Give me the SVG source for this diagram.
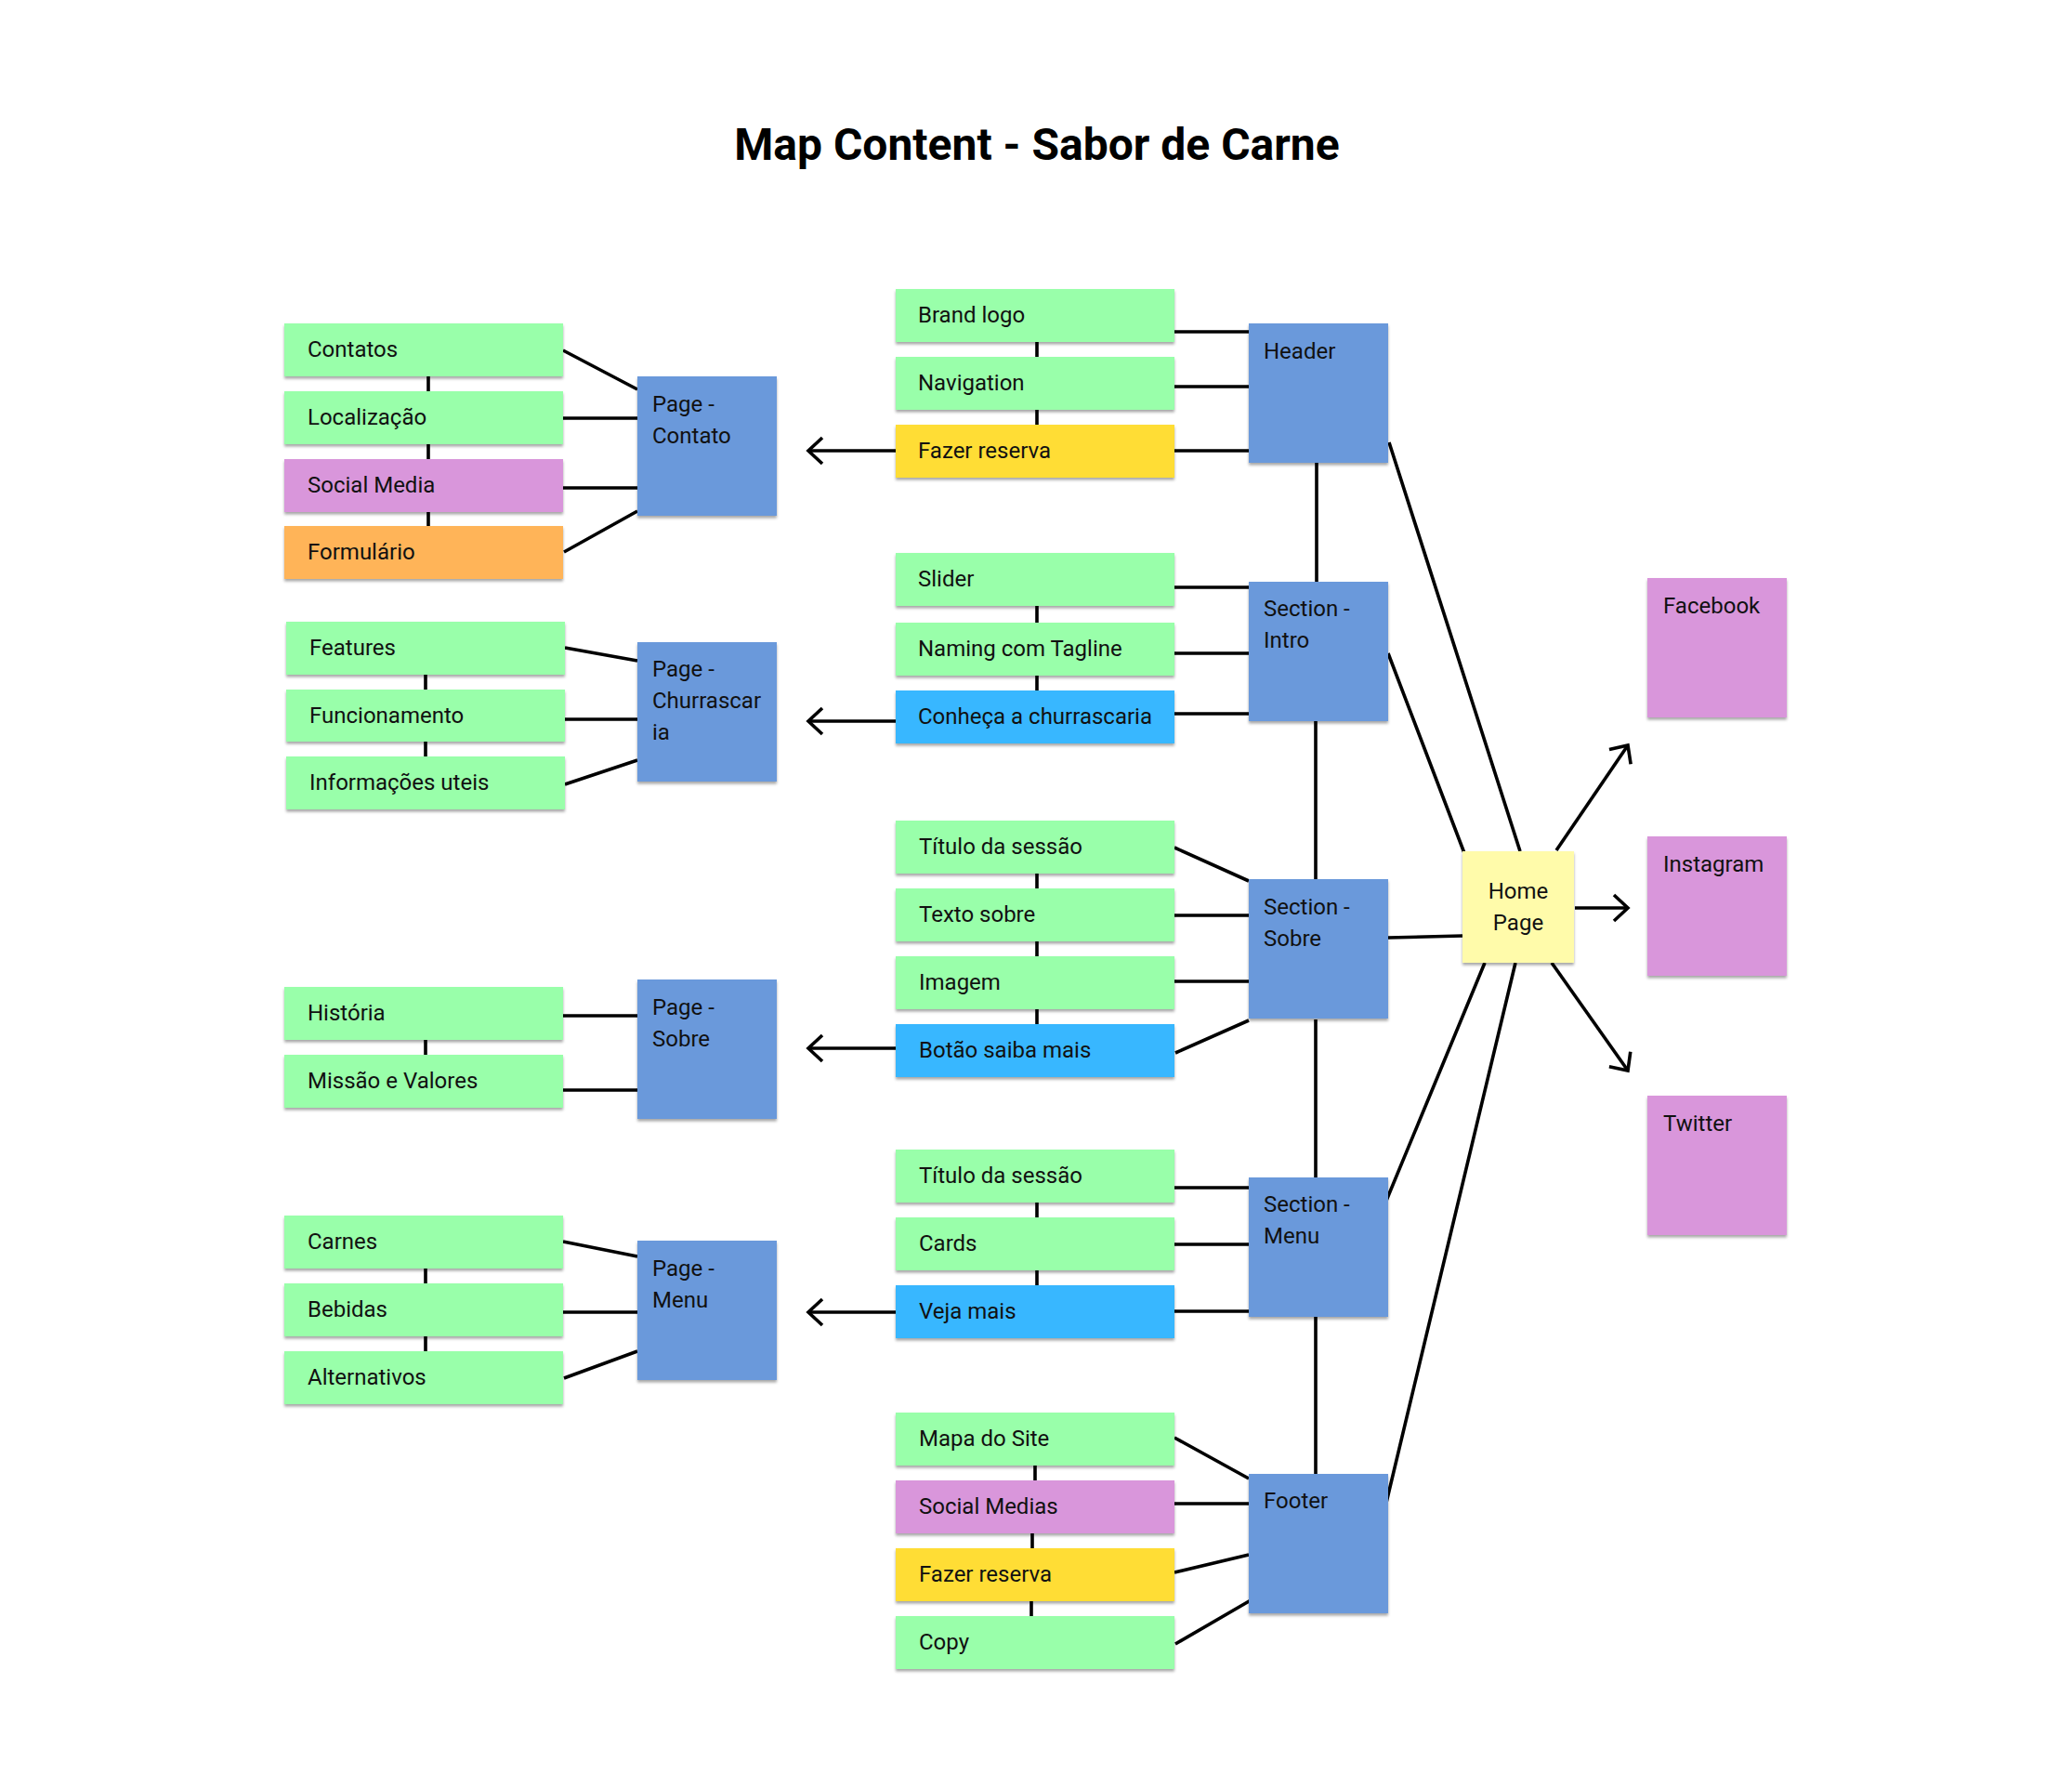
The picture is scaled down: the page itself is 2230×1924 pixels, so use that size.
<svg xmlns="http://www.w3.org/2000/svg" width="2230" height="1924" viewBox="0 0 2230 1924">
<style>
.t{font-family:Roboto,"Liberation Sans",Arial,sans-serif;font-size:24px;fill:#111}
.title{font-family:Roboto,"Liberation Sans",Arial,sans-serif;font-size:48px;font-weight:bold;fill:#000}
.g{fill:#99FFAA}
.b{fill:#6B99DB}
.y{fill:#FFDD36}
.c{fill:#38B7FF}
.p{fill:#D996DB}
.o{fill:#FFB458}
.h{fill:#FFFBAA}
.box{filter:url(#sh)}
.ln{stroke:#000;stroke-width:3.6;fill:none;stroke-linecap:butt}
.ar{marker-end:url(#ah)}
</style>
<defs>
<filter id="sh" x="-10%" y="-10%" width="120%" height="130%">
<feDropShadow dx="0" dy="2.5" stdDeviation="1.8" flood-color="#000" flood-opacity="0.35"/>
</filter>
<marker id="ah" markerUnits="userSpaceOnUse" markerWidth="40" markerHeight="40" viewBox="-20 -20 40 40" refX="0" refY="0" orient="auto">
<path d="M-15,-14 L0,0 L-15,14" fill="none" stroke="#000" stroke-width="3.6"/>
</marker>
</defs>
<rect width="2230" height="1924" fill="#fff"/>
<text class="title" x="1116" y="172" text-anchor="middle">Map Content - Sabor de Carne</text>

<g id="connectors">
<path class="ln" d="M461,405V421 M461,478V494 M461,551V566"/>
<path class="ln" d="M606,377L686,419 M606,450H686 M606,525H686 M607,594L686,550"/>
<path class="ln" d="M458,726V742 M458,798V814"/>
<path class="ln" d="M608,697L686,711 M608,774H686 M608,844L686,818"/>
<path class="ln" d="M458,1119V1135"/>
<path class="ln" d="M606,1093H686 M606,1173H686"/>
<path class="ln" d="M458,1365V1381 M458,1438V1454"/>
<path class="ln" d="M606,1336L686,1352 M606,1412H686 M607,1483L686,1454"/>
<path class="ln ar" d="M964,485H870"/>
<path class="ln ar" d="M964,776H870"/>
<path class="ln ar" d="M964,1128H870"/>
<path class="ln ar" d="M964,1412H870"/>
<path class="ln" d="M1116,368V384 M1116,441V457"/>
<path class="ln" d="M1264,357H1344 M1264,416H1344 M1264,485H1344"/>
<path class="ln" d="M1116,652V670 M1116,727V743"/>
<path class="ln" d="M1264,632H1344 M1264,703H1344 M1264,768H1344"/>
<path class="ln" d="M1116,940V956 M1116,1013V1029 M1116,1086V1102"/>
<path class="ln" d="M1264,912L1344,948 M1264,985H1344 M1264,1056H1344 M1265,1133L1344,1098"/>
<path class="ln" d="M1116,1294V1310 M1116,1367V1383"/>
<path class="ln" d="M1264,1278H1344 M1264,1339H1344 M1264,1411H1344"/>
<path class="ln" d="M1114,1577V1593 M1111,1650V1666 M1110,1723V1739"/>
<path class="ln" d="M1264,1547L1344,1591 M1264,1618H1344 M1264,1692L1344,1673 M1265,1769L1346,1722"/>
<path class="ln" d="M1417,498V626 M1416,776V946 M1416,1097V1267 M1416,1417V1586"/>
<path class="ln" d="M1495,476L1636,916 M1494,703L1576,918 M1494,1009L1574,1007 M1492,1292L1598,1036 M1492,1617L1631,1036"/>
<path class="ln ar" d="M1675,915L1752,802"/>
<path class="ln ar" d="M1695,977H1752"/>
<path class="ln ar" d="M1670,1036L1752,1152"/>
</g>

<g id="page-contato"><rect class="box b" x="686" y="405" width="150" height="150"/><text class="t" x="702" y="443">Page -</text><text class="t" x="702" y="477">Contato</text></g>
<g id="contatos"><rect class="box g" x="306" y="348" width="300" height="57"/><text class="t" x="331" y="384">Contatos</text></g>
<g id="localizacao"><rect class="box g" x="306" y="421" width="300" height="57"/><text class="t" x="331" y="457">Localização</text></g>
<g id="social-media"><rect class="box p" x="306" y="494" width="300" height="57"/><text class="t" x="331" y="530">Social Media</text></g>
<g id="formulario"><rect class="box o" x="306" y="566" width="300" height="57"/><text class="t" x="331" y="602">Formulário</text></g>

<g id="page-churrascaria"><rect class="box b" x="686" y="691" width="150" height="150"/><text class="t" x="702" y="728">Page -</text><text class="t" x="702" y="762">Churrascar</text><text class="t" x="702" y="796">ia</text></g>
<g id="features"><rect class="box g" x="308" y="669" width="300" height="57"/><text class="t" x="333" y="705">Features</text></g>
<g id="funcionamento"><rect class="box g" x="308" y="742" width="300" height="56"/><text class="t" x="333" y="778">Funcionamento</text></g>
<g id="informacoes"><rect class="box g" x="308" y="814" width="300" height="57"/><text class="t" x="333" y="850">Informações uteis</text></g>

<g id="page-sobre"><rect class="box b" x="686" y="1054" width="150" height="150"/><text class="t" x="702" y="1092">Page -</text><text class="t" x="702" y="1126">Sobre</text></g>
<g id="historia"><rect class="box g" x="306" y="1062" width="300" height="57"/><text class="t" x="331" y="1098">História</text></g>
<g id="missao"><rect class="box g" x="306" y="1135" width="300" height="57"/><text class="t" x="331" y="1171">Missão e Valores</text></g>

<g id="page-menu"><rect class="box b" x="686" y="1335" width="150" height="150"/><text class="t" x="702" y="1373">Page -</text><text class="t" x="702" y="1407">Menu</text></g>
<g id="carnes"><rect class="box g" x="306" y="1308" width="300" height="57"/><text class="t" x="331" y="1344">Carnes</text></g>
<g id="bebidas"><rect class="box g" x="306" y="1381" width="300" height="57"/><text class="t" x="331" y="1417">Bebidas</text></g>
<g id="alternativos"><rect class="box g" x="306" y="1454" width="300" height="57"/><text class="t" x="331" y="1490">Alternativos</text></g>

<g id="header"><rect class="box b" x="1344" y="348" width="150" height="150"/><text class="t" x="1360" y="386">Header</text></g>
<g id="brand-logo"><rect class="box g" x="964" y="311" width="300" height="57"/><text class="t" x="988" y="347">Brand logo</text></g>
<g id="navigation"><rect class="box g" x="964" y="384" width="300" height="57"/><text class="t" x="988" y="420">Navigation</text></g>
<g id="fazer-reserva-1"><rect class="box y" x="964" y="457" width="300" height="57"/><text class="t" x="988" y="493">Fazer reserva</text></g>

<g id="section-intro"><rect class="box b" x="1344" y="626" width="150" height="150"/><text class="t" x="1360" y="663">Section -</text><text class="t" x="1360" y="697">Intro</text></g>
<g id="slider"><rect class="box g" x="964" y="595" width="300" height="57"/><text class="t" x="988" y="631">Slider</text></g>
<g id="naming"><rect class="box g" x="964" y="670" width="300" height="57"/><text class="t" x="988" y="706">Naming com Tagline</text></g>
<g id="conheca"><rect class="box c" x="964" y="743" width="300" height="57"/><text class="t" x="988" y="779">Conheça a churrascaria</text></g>

<g id="section-sobre"><rect class="box b" x="1344" y="946" width="150" height="150"/><text class="t" x="1360" y="984">Section -</text><text class="t" x="1360" y="1018">Sobre</text></g>
<g id="titulo-1"><rect class="box g" x="964" y="883" width="300" height="57"/><text class="t" x="989" y="919">Título da sessão</text></g>
<g id="texto-sobre"><rect class="box g" x="964" y="956" width="300" height="57"/><text class="t" x="989" y="992">Texto sobre</text></g>
<g id="imagem"><rect class="box g" x="964" y="1029" width="300" height="57"/><text class="t" x="989" y="1065">Imagem</text></g>
<g id="botao"><rect class="box c" x="964" y="1102" width="300" height="57"/><text class="t" x="989" y="1138">Botão saiba mais</text></g>

<g id="section-menu"><rect class="box b" x="1344" y="1267" width="150" height="150"/><text class="t" x="1360" y="1304">Section -</text><text class="t" x="1360" y="1338">Menu</text></g>
<g id="titulo-2"><rect class="box g" x="964" y="1237" width="300" height="57"/><text class="t" x="989" y="1273">Título da sessão</text></g>
<g id="cards"><rect class="box g" x="964" y="1310" width="300" height="57"/><text class="t" x="989" y="1346">Cards</text></g>
<g id="veja-mais"><rect class="box c" x="964" y="1383" width="300" height="57"/><text class="t" x="989" y="1419">Veja mais</text></g>

<g id="footer"><rect class="box b" x="1344" y="1586" width="150" height="150"/><text class="t" x="1360" y="1623">Footer</text></g>
<g id="mapa"><rect class="box g" x="964" y="1520" width="300" height="57"/><text class="t" x="989" y="1556">Mapa do Site</text></g>
<g id="social-medias"><rect class="box p" x="964" y="1593" width="300" height="57"/><text class="t" x="989" y="1629">Social Medias</text></g>
<g id="fazer-reserva-2"><rect class="box y" x="964" y="1666" width="300" height="57"/><text class="t" x="989" y="1702">Fazer reserva</text></g>
<g id="copy"><rect class="box g" x="964" y="1739" width="300" height="57"/><text class="t" x="989" y="1775">Copy</text></g>

<g id="home-page"><rect class="box h" x="1574" y="916" width="120" height="120"/><text class="t" x="1634" y="967" text-anchor="middle">Home</text><text class="t" x="1634" y="1001" text-anchor="middle">Page</text></g>
<g id="facebook"><rect class="box p" x="1773" y="622" width="150" height="150"/><text class="t" x="1790" y="660">Facebook</text></g>
<g id="instagram"><rect class="box p" x="1773" y="900" width="150" height="150"/><text class="t" x="1790" y="938">Instagram</text></g>
<g id="twitter"><rect class="box p" x="1773" y="1179" width="150" height="150"/><text class="t" x="1790" y="1217">Twitter</text></g>
</svg>
